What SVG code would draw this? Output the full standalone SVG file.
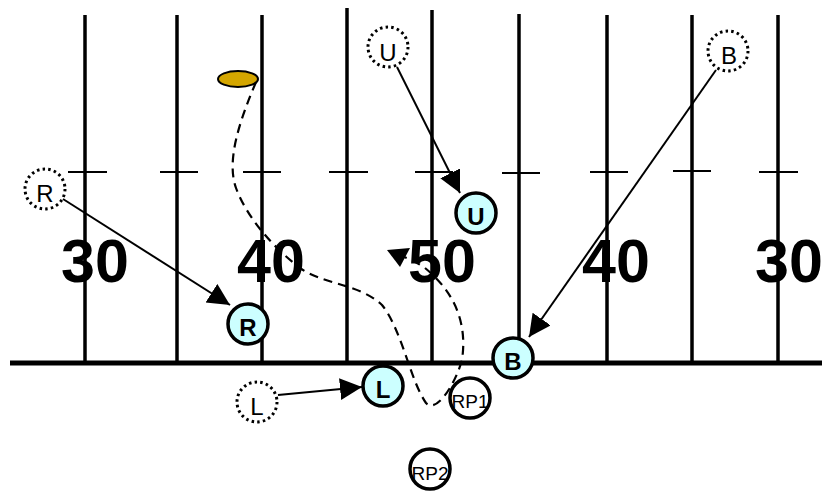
<svg xmlns="http://www.w3.org/2000/svg" width="822" height="491" viewBox="0 0 822 491">
<style>
.yard{stroke:#000;stroke-width:3.5;fill:none}
.tick{stroke:#000;stroke-width:2;fill:none}
.side{stroke:#000;stroke-width:5;fill:none}
.num{font-family:"Liberation Sans",Arial,sans-serif;font-weight:bold;font-size:61px;text-anchor:middle;fill:#000}
.ghost{fill:#fff;stroke:#000;stroke-width:3;stroke-dasharray:2.5 3.2}
.ghost-t{font-family:"Liberation Sans",Arial,sans-serif;font-size:24px;text-anchor:middle;fill:#000}
.pl{fill:#ccffff;stroke:#000;stroke-width:3.5}
.pl-t{font-family:"Liberation Sans",Arial,sans-serif;font-weight:bold;font-size:24px;text-anchor:middle;fill:#000}
.rp{fill:#fff;stroke:#000;stroke-width:3.5}
.rp-t{font-family:"Liberation Sans",Arial,sans-serif;font-size:19px;text-anchor:middle;fill:#000}
.mv{stroke:#000;stroke-width:2;fill:none;marker-end:url(#ah)}
.path{stroke:#000;stroke-width:2.2;fill:none;stroke-dasharray:9 6}
</style>
<defs>
<marker id="ah" markerUnits="userSpaceOnUse" markerWidth="24" markerHeight="24" refX="22" refY="11" orient="auto"><path d="M0,0 L22,11 L0,22 z" fill="#000"/></marker>
</defs>
<rect width="822" height="491" fill="#fff"/>
<g id="field">
<line class="yard" x1="85" y1="15" x2="85" y2="362"/>
<line class="yard" x1="177" y1="15" x2="177" y2="362"/>
<line class="yard" x1="262" y1="15" x2="262" y2="362"/>
<line class="yard" x1="347" y1="8" x2="347" y2="362"/>
<line class="yard" x1="432" y1="10" x2="432" y2="362"/>
<line class="yard" x1="519" y1="14" x2="519" y2="362"/>
<line class="yard" x1="607" y1="15" x2="607" y2="362"/>
<line class="yard" x1="692" y1="15" x2="692" y2="362"/>
<line class="yard" x1="778" y1="15" x2="778" y2="362"/>
<line class="tick" x1="68" y1="172" x2="107" y2="172"/>
<line class="tick" x1="160" y1="172" x2="198" y2="172"/>
<line class="tick" x1="243" y1="172" x2="281" y2="172"/>
<line class="tick" x1="329" y1="172" x2="368" y2="172"/>
<line class="tick" x1="415" y1="172" x2="453" y2="172"/>
<line class="tick" x1="502" y1="173" x2="540" y2="173"/>
<line class="tick" x1="590" y1="172" x2="628" y2="172"/>
<line class="tick" x1="673" y1="171" x2="711" y2="171"/>
<line class="tick" x1="759" y1="172" x2="798" y2="172"/>
<line class="side" x1="10" y1="363" x2="822" y2="363"/>
<text class="num" x="95" y="282">30</text>
<text class="num" x="271" y="282">40</text>
<text class="num" x="442" y="282">50</text>
<text class="num" x="616" y="282">40</text>
<text class="num" x="789" y="282">30</text>
</g>
<g id="ball"><ellipse cx="238" cy="79" rx="20" ry="8" fill="#d4a600" stroke="#000" stroke-width="2"/></g>
<g id="connectors">
<path class="path" d="M256,82 C240,120 226,160 236,188 C246,215 270,245 300,268 C322,284 360,284 382,305 C402,330 410,380 426,403 C436,414 455,385 462,360 C468,320 452,290 425,268 C418,263 412,260 404,257"/>
<path d="M387,250 L410,248 L400,267 z" fill="#000"/>
<line class="mv" x1="63" y1="199" x2="230" y2="305"/>
<line class="mv" x1="397" y1="67" x2="460" y2="193"/>
<line class="mv" x1="716" y1="70" x2="529" y2="337"/>
<line class="mv" x1="278" y1="395" x2="362" y2="387"/>
</g>
<g id="ghost-R"><circle class="ghost" cx="45" cy="189" r="20"/><text class="ghost-t" x="45" y="202">R</text></g>
<g id="ghost-U"><circle class="ghost" cx="388" cy="47" r="20"/><text class="ghost-t" x="388" y="61">U</text></g>
<g id="ghost-B"><circle class="ghost" cx="728" cy="51" r="20"/><text class="ghost-t" x="729" y="64">B</text></g>
<g id="ghost-L"><circle class="ghost" cx="257" cy="402" r="20"/><text class="ghost-t" x="257" y="415">L</text></g>
<g id="player-R"><circle class="pl" cx="248" cy="324" r="20"/><text class="pl-t" x="248" y="336">R</text></g>
<g id="player-U"><circle class="pl" cx="476" cy="213" r="20"/><text class="pl-t" x="476" y="225">U</text></g>
<g id="player-B"><circle class="pl" cx="513" cy="358" r="20"/><text class="pl-t" x="513" y="370">B</text></g>
<g id="player-L"><circle class="pl" cx="383" cy="386" r="20"/><text class="pl-t" x="383" y="398">L</text></g>
<g id="RP1"><circle class="rp" cx="470" cy="398" r="20"/><text class="rp-t" x="470" y="408">RP1</text></g>
<g id="RP2"><circle class="rp" cx="430" cy="469" r="20"/><text class="rp-t" x="430" y="480">RP2</text></g>
</svg>
